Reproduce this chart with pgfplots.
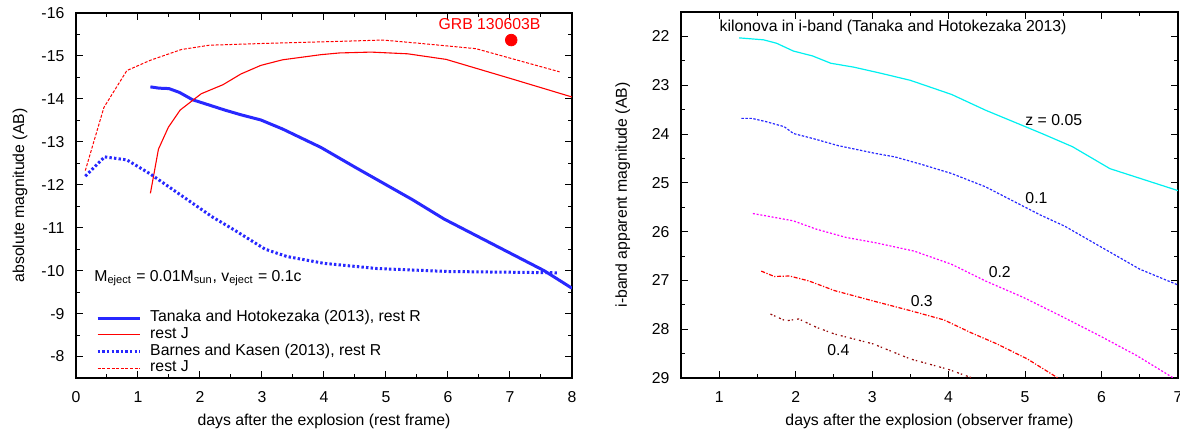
\documentclass[border=0pt]{standalone}
\usepackage{fontspec}
\setmainfont{Liberation Sans}
\usepackage{pgfplots}
\pgfplotsset{compat=1.18}

\definecolor{gpblue}{RGB}{40,40,255}
\definecolor{gpdarkred}{RGB}{150,10,10}
\definecolor{gpcyan}{RGB}{0,240,240}
\definecolor{gpmagenta}{RGB}{255,0,255}
\definecolor{gpred}{RGB}{255,0,0}

\pgfplotsset{
  gp/.style={
    scale only axis,
    width=248pt, height=182.5pt,
    axis line style={line width=0.8pt},
    tick align=inside,
    major tick length=3.5pt, minor tick length=1.8pt,
    tick style={black, line width=0.5pt},
    minor x tick num=1, minor y tick num=1,
    y dir=reverse,
    /pgf/number format/assume math mode=true,
    ticklabel style={font=\fontsize{7.9}{9.4}\selectfont},
    label style={font=\fontsize{7.9}{9.4}\selectfont},
    xticklabel style={yshift=-4pt},
    yticklabel style={xshift=-3pt},
    xlabel style={at={(axis description cs:0.5,-0.118)}, anchor=center},
    every axis plot/.append style={line join=round},
  },
}

\begin{document}
\fontsize{7.9}{9.4}\selectfont
\begin{tikzpicture}
\path[use as bounding box] (-38pt,-27pt) rectangle (552pt,189pt);

% left: absolute magnitudes
\begin{axis}[
  gp,
  at={(0pt,0pt)}, anchor=south west,
  xmin=0, xmax=8, ymin=-16, ymax=-7.5,
  xtick={0,...,8}, ytick={-16,...,-8},
  xlabel={days after the explosion (rest frame)},
  ylabel={absolute magnitude (AB)},
  ylabel style={at={(axis description cs:-0.113,0.5)}, anchor=center, rotate=0},
  legend style={at={(axis description cs:0.04,0.188)}, anchor=north west,
    draw=none, fill=none, inner sep=0pt, row sep=0pt, column sep=4.5pt,
    font=\fontsize{7.9}{9.4}\selectfont,
    nodes={inner sep=0pt, text height=6pt, text depth=2.33pt}},
  legend cell align=left,
  legend image code/.code={\draw[#1] (0pt,0pt) -- (21pt,0pt);},
]
\addplot[gpblue, line width=1.5pt] coordinates {
(1.2,-14.28)(1.34,-14.25)(1.5,-14.24)(1.67,-14.15)(1.88,-13.98)(2.12,-13.87)
(2.4,-13.74)(2.66,-13.63)(2.98,-13.51)(3.33,-13.30)(3.95,-12.87)(4.5,-12.41)
(5.43,-11.65)(5.94,-11.20)(7.55,-10.0)(8.0,-9.59)};
\addlegendentry{Tanaka and Hotokezaka (2013), rest R}
\addplot[gpred, line width=0.55pt] coordinates {
(1.2,-11.80)(1.33,-12.83)(1.49,-13.34)(1.68,-13.74)(2.02,-14.12)(2.37,-14.33)
(2.66,-14.58)(2.98,-14.78)(3.33,-14.91)(3.95,-15.03)(4.25,-15.07)(4.76,-15.09)
(5.35,-15.05)(5.97,-14.92)(7.02,-14.47)(8.01,-14.04)};
\addlegendentry{rest J}
\addplot[gpblue, line width=1.5pt, dash pattern=on 1.2pt off 1.1pt] coordinates {
(0.15,-12.20)(0.46,-12.65)(0.82,-12.58)(1.2,-12.25)(1.5,-11.95)(1.8,-11.65)
(2.2,-11.25)(2.55,-10.95)(3.05,-10.50)(3.4,-10.33)(4.0,-10.17)(4.85,-10.05)
(6.0,-9.98)(7.77,-9.95)};
\addlegendentry{Barnes and Kasen (2013), rest R}
\addplot[gpred, line width=0.5pt, dash pattern=on 1.5pt off 0.8pt] coordinates {
(0.15,-12.33)(0.45,-13.80)(0.82,-14.66)(1.2,-14.90)(1.7,-15.15)(2.15,-15.25)
(3.0,-15.29)(4.0,-15.33)(4.95,-15.37)(5.5,-15.30)(6.45,-15.17)(7.8,-14.63)};
\addlegendentry{rest J}
\addplot[only marks, mark=*, mark size=2.9pt, gpred, forget plot] coordinates {(7.02,-15.37)};
\node[gpred, inner sep=0pt] at (axis cs:6.67,-15.74) {GRB 130603B};
\node[anchor=west, inner sep=0pt] at (axis cs:0.29,-9.82)
  {M\textsubscript{eject} = 0.01M\textsubscript{sun}, v\textsubscript{eject} = 0.1c};
\end{axis}

% right: i-band apparent magnitudes
\begin{axis}[
  gp,
  at={(302.5pt,0pt)}, anchor=south west,
  width=248.5pt, height=183pt,
  xmin=0.5, xmax=7, ymin=21.5, ymax=29,
  xtick={1,...,7}, ytick={22,...,29},
  xlabel={days after the explosion (observer frame)},
  ylabel={i-band apparent magnitude (AB)},
  ylabel style={at={(axis description cs:-0.117,0.5)}, anchor=center, rotate=0},
]
\addplot[gpcyan, line width=0.6pt] coordinates {
(1.26,22.03)(1.58,22.07)(1.75,22.14)(1.97,22.30)(2.22,22.40)(2.46,22.55)
(2.76,22.63)(3.1,22.75)(3.5,22.90)(4.04,23.19)(4.48,23.51)(5.22,23.99)
(5.62,24.26)(6.11,24.71)(7.0,25.16)};
\addplot[gpblue, line width=0.6pt, dash pattern=on 1.2pt off 0.8pt] coordinates {
(1.29,23.68)(1.43,23.68)(1.62,23.75)(1.85,23.85)(1.97,23.99)(2.22,24.09)
(2.56,24.24)(3.05,24.40)(3.3,24.47)(3.64,24.62)(4.04,24.81)(4.48,25.08)
(5.2,25.66)(5.52,25.89)(6.01,26.33)(6.5,26.77)(7.01,27.10)};
\addplot[gpmagenta, line width=0.6pt, dash pattern=on 1pt off 0.9pt] coordinates {
(1.44,25.63)(1.62,25.68)(1.97,25.78)(2.27,25.95)(2.66,26.12)(3.05,26.23)
(3.55,26.40)(4.04,26.67)(4.48,27.01)(4.98,27.35)(5.47,27.73)(5.97,28.13)
(6.46,28.54)(6.93,28.99)(7.05,29.1)};
\addplot[gpred, line width=0.6pt, dash pattern=on 2pt off 0.8pt on 0.6pt off 0.8pt] coordinates {
(1.55,26.81)(1.72,26.92)(1.92,26.91)(2.17,27.01)(2.51,27.21)(3.01,27.42)
(3.5,27.62)(3.94,27.81)(4.29,28.07)(4.63,28.30)(5.03,28.61)(5.42,28.99)(5.5,29.1)};
\addplot[gpdarkred, line width=0.6pt, dash pattern=on 1pt off 1pt on 0.7pt off 2pt] coordinates {
(1.67,27.69)(1.87,27.83)(2.04,27.79)(2.27,27.96)(2.51,28.10)(3.01,28.30)
(3.5,28.61)(3.99,28.82)(4.31,29.0)(4.4,29.1)};
\node[anchor=west, inner sep=0pt] at (axis cs:1.0,21.81) {kilonova in i-band (Tanaka and Hotokezaka 2013)};
\node[anchor=west, inner sep=0pt] at (axis cs:5.0,23.72) {z = 0.05};
\node[anchor=west, inner sep=0pt] at (axis cs:5.0,25.32) {0.1};
\node[anchor=west, inner sep=0pt] at (axis cs:4.52,26.83) {0.2};
\node[anchor=west, inner sep=0pt] at (axis cs:3.5,27.42) {0.3};
\node[anchor=west, inner sep=0pt] at (axis cs:2.41,28.42) {0.4};
\end{axis}
\end{tikzpicture}
\end{document}
